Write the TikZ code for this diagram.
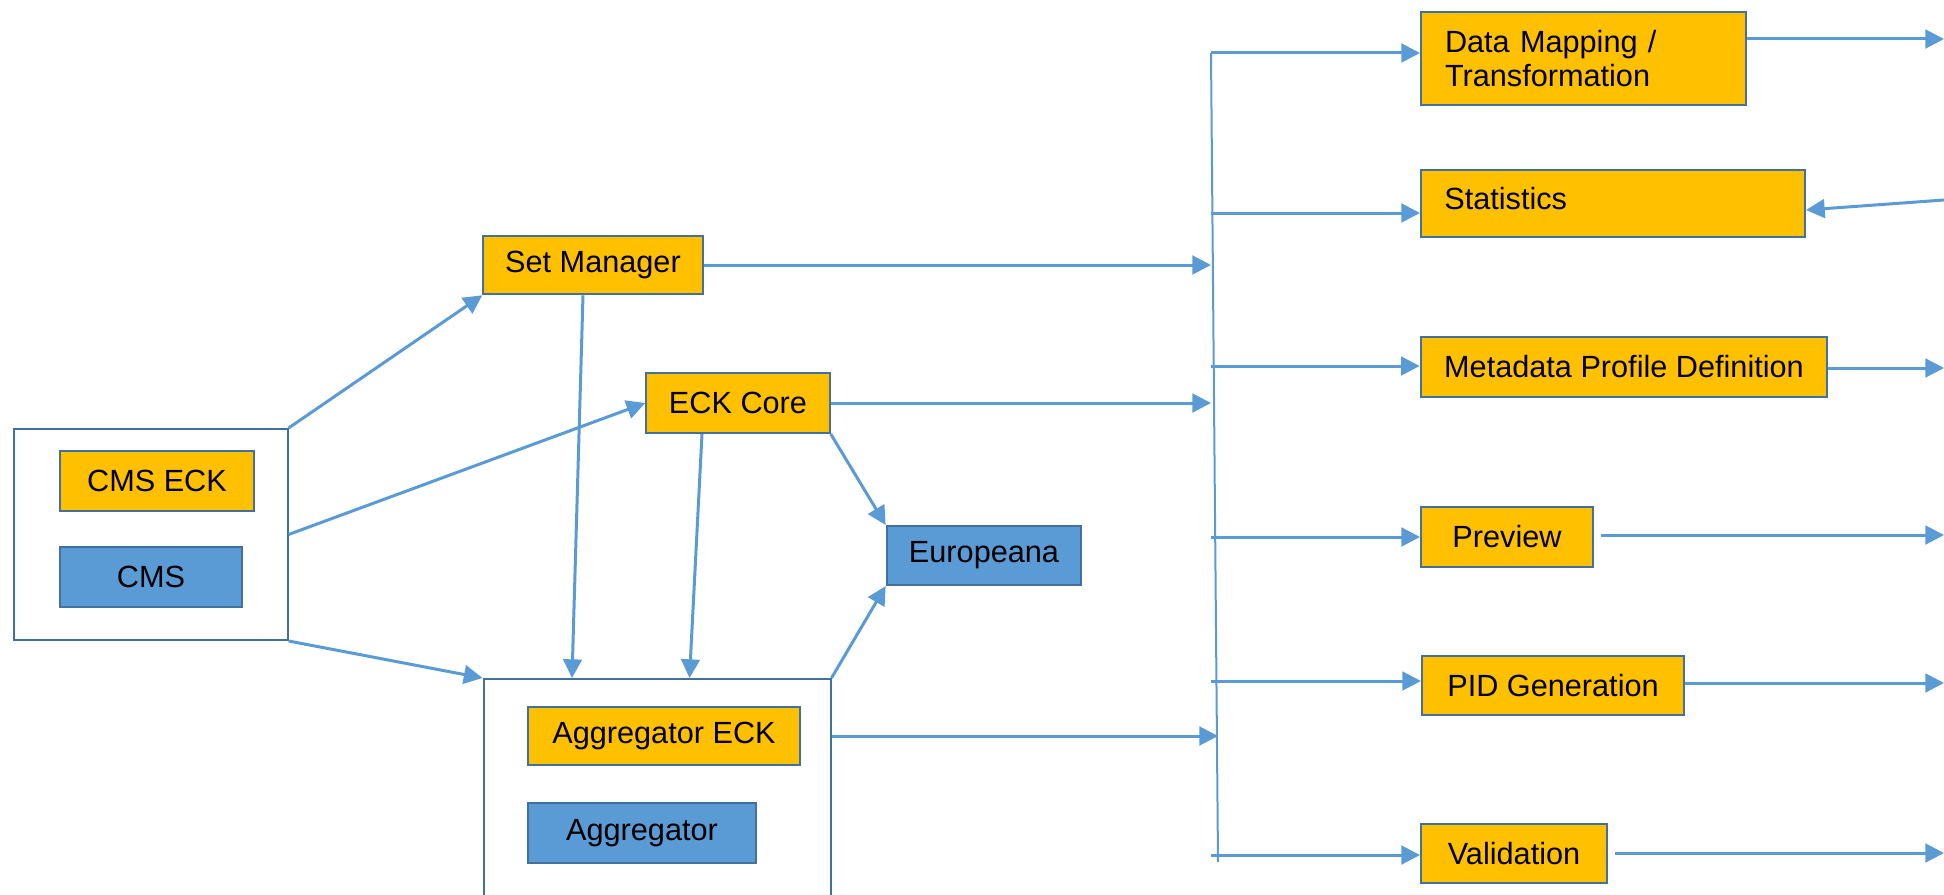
\documentclass[tikz,border=0pt]{standalone}
\usepackage{fontspec}
\setmainfont{Liberation Sans}
\usetikzlibrary{arrows.meta,calc}
\definecolor{boxorange}{RGB}{255,192,0}
\definecolor{boxblue}{RGB}{91,155,213}
\definecolor{boxedge}{RGB}{65,113,156}
\definecolor{flowblue}{RGB}{91,155,213}
\begin{document}
\begin{tikzpicture}[x=0.75pt,y=0.75pt,yscale=-1,xscale=1,
  font=\fontsize{23}{26}\selectfont,
  modbox/.style={draw=boxedge,line width=1.5pt,inner sep=0pt,minimum height=45pt,align=center},
  orangebox/.style={modbox,fill=boxorange},
  bluebox/.style={modbox,fill=boxblue},
  holder/.style={draw=boxedge,line width=1.5pt,fill=white,inner sep=0pt},
  flow/.style={draw=flowblue,line width=2.25pt,-{Triangle[length=14pt,width=14pt]}},
  bus/.style={draw=flowblue,line width=1.5pt}]

\useasboundingbox (0,0) rectangle (1944,895);

% CMS side
\node[holder,minimum width=205.5pt,minimum height=158.25pt] (cmsouter) at (150.6,534.5) {};
\node[orangebox,minimum width=146pt] (cmseck) at (157,481) {CMS ECK};
\node[bluebox,minimum width=137pt] (cms) at (151,577) {CMS};

% Middle
\node[orangebox,minimum width=164.6pt,minimum height=43.9pt] (setman) at (593,265) {Set Manager};
\node[orangebox,minimum width=137.6pt] (eckcore) at (738,403) {ECK Core};
\node[bluebox,minimum width=146pt,minimum height=44.25pt] (europeana) at (984,555.5) {Europeana};

% Aggregator side
\node[holder,minimum width=260.25pt,minimum height=181.5pt] (aggouter) at (657,800) {};
\node[orangebox,minimum width=204pt,minimum height=43.5pt] (aggeck) at (664,736) {Aggregator ECK};
\node[bluebox,minimum width=171pt] (agg) at (642,833) {Aggregator};

% Services
\node[orangebox,minimum width=243.75pt,minimum height=69.75pt,text width=207.75pt,inner xsep=18pt,align=left] (datamap) at (1583.5,58.5) {Data Mapping /\\Transformation};
\node[orangebox,minimum width=288pt,minimum height=50.25pt,text width=253pt,inner xsep=17.5pt,text depth=8pt,align=left] (stats) at (1613,203.5) {Statistics};
\node[orangebox,minimum width=305pt] (mpd) at (1624,367) {Metadata Profile Definition};
\node[orangebox,minimum width=129pt] (preview) at (1507,537) {Preview};
\node[orangebox,minimum width=196.5pt,minimum height=44.25pt] (pidgen) at (1553,685.5) {PID Generation};
\node[orangebox,minimum width=139.5pt,minimum height=44.25pt] (valid) at (1514,853.5) {Validation};

% Bus
\coordinate (bustop) at (1211,53);
\coordinate (busbot) at (1218,862);
\draw[bus] (bustop) -- (busbot);

% Bus to services
\draw[flow] (bustop) -- (bustop -| datamap.west);
\foreach \n/\y in {stats/213,mpd/366,preview/537,pidgen/681,valid/855}{
  \coordinate (b\n) at (1211,\y);
  \draw[flow] (b\n) -- (b\n -| \n.west);
}

% Into bus
\draw[flow] (setman.east) -- (setman.east -| bustop);
\draw[flow] (eckcore.east) -- (eckcore.east -| bustop);
\draw[flow] (aggeck -| aggouter.east) -- (aggeck -| busbot);

% Out to the right
\foreach \n/\y/\g in {datamap/39/0,mpd/368/0,preview/535/7,pidgen/683/0,valid/853/7}{
  \coordinate (out\n) at (1944,\y);
  \draw[flow] ($(\n.east |- out\n)+(\g,0)$) -- (out\n);
}
\coordinate (instats) at (1944,200);
\draw[flow] (instats) -- ($(stats.east)+(0,6.5)$);

% Left arrows
\draw[flow] (cmsouter.north east) -- (setman.south west);
\draw[flow] (cmsouter.east) -- (eckcore.west);
\draw[flow] (cmsouter.south east) -- (aggouter.north west);
\draw[flow] ($(setman.south)+(-10,0)$) -- ($(aggouter.north west)+(89.5,0)$);
\draw[flow] ($(eckcore.south)+(-36,0)$) -- ($(aggouter.north west)+(207,0)$);
\draw[flow] (eckcore.south east) -- (europeana.north west);
\draw[flow] (aggouter.north east) -- (europeana.south west);
\end{tikzpicture}
\end{document}
